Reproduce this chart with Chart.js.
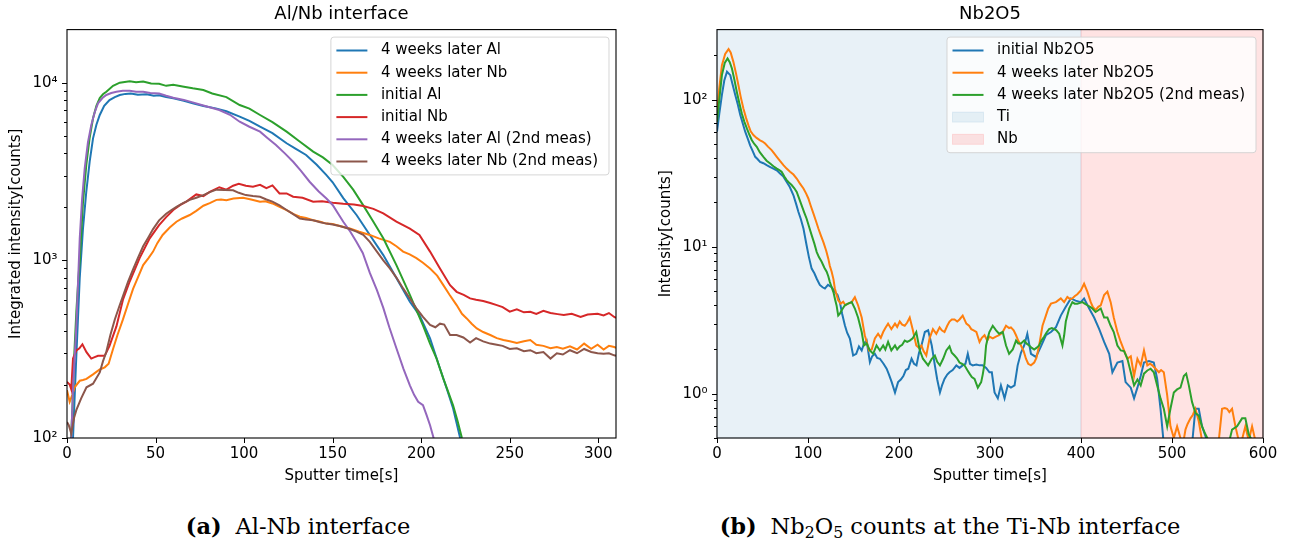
<!DOCTYPE html>
<html>
<head>
<meta charset="utf-8">
<script src="https://cdn.jsdelivr.net/npm/chart.js"></script>
<style>
  html, body { margin: 0; padding: 0; background: #fff; }
  #page { position: relative; width: 1300px; height: 543px; overflow: hidden; }
  canvas { position: absolute; top: 0; }
  .cap { position: absolute; top: 515px; width: 600px; text-align: center;
         font-family: "DejaVu Serif", serif; font-size: 22.5px; line-height: 1; color: #000; }
  .cap b { margin-right: 0.3em; }
  .cap sub { font-size: 0.7em; vertical-align: -0.28em; line-height: 0; }
</style>
</head>
<body>
<div id="page">
  <canvas id="chartA" width="650" height="490" style="left:0"></canvas>
  <canvas id="chartB" width="650" height="490" style="left:650px"></canvas>
  <div class="cap" style="left:-2px"><b>(a)</b> Al-Nb interface</div>
  <div class="cap" style="left:650px"><b>(b)</b> Nb<sub>2</sub>O<sub>5</sub> counts at the Ti-Nb interface</div>
</div>
<script>
// ---- tick values / labels ----
const leftXTicks = [0, 50, 100, 150, 200, 250, 300];
const rightXTicks = [0, 100, 200, 300, 400, 500, 600];
const leftYMajor = [100, 1000, 10000];
const leftYLabels = ['10²', '10³', '10⁴'];
const rightYMajor = [1, 10, 100];
const rightYLabels = ['10⁰', '10¹', '10²'];

// ---- shaded regions (sputter time) ----
const tiRange = [0, 400];
const nbRange = [400, 600];

// ---- Al/Nb interface: [sputter time s, counts] ----
const laterAl = [[0,70],[2,80],[3.4,100],[5,250],[7.2,800],[9,1500],[10.9,2440],[12.8,3600],[14.7,4860],[16.6,5800],[18.5,6580],[21,7400],[24,7990],[27,8300],[29.8,8530],[33,8650],[36,8700],[40,8550],[45,8600],[49,8450],[52,8500],[56,8300],[60,8160],[66,7900],[71,7650],[77,7400],[84,7170],[90,6900],[97.5,6440],[103,6100],[109,5650],[116,5200],[124,4560],[129,4250],[135,3920],[141,3450],[146.5,3020],[150,2750],[156,2240],[163.5,1800],[171,1390],[178.6,1070],[186,795],[193.6,585],[199,492],[205,364],[210.6,246],[214.4,190],[218,147],[222,100],[224,85]];
const laterNb = [[0,186],[1.5,160],[3,175],[4.3,193],[7.2,210],[9,212],[11,215],[14.7,228],[18.5,243],[21.3,250],[23.5,262],[26,317],[28.5,380],[31.6,465],[34.5,570],[37.3,690],[40,800],[43,940],[46,1030],[48.6,1120],[51,1250],[54,1390],[58,1530],[61.8,1650],[65,1720],[69.3,1800],[73,1900],[77,2030],[80.6,2100],[84.4,2190],[87,2200],[90,2180],[94,2230],[99.4,2250],[104,2200],[109,2140],[112,2150],[116,2090],[120,2000],[124,1920],[128,1820],[131.5,1760],[135,1730],[139,1680],[143,1650],[146.5,1610],[150,1600],[154,1560],[159.7,1510],[165,1450],[171,1390],[176,1330],[182.3,1270],[186,1200],[189.8,1120],[193.5,1080],[197.3,1030],[201,970],[205,900],[209,820],[212.5,725],[216,640],[220,560],[223,500],[225.7,471],[228.5,440],[231.4,414],[235,395],[239,380],[242.7,365],[246.4,356],[250,350],[254,343],[258,350],[261.6,356],[265,335],[269,330],[273,320],[276.6,325],[280,318],[284,328],[288,315],[292,340],[296,318],[299.6,335],[303,315],[306,330],[309,325],[310,322]];
const initialAl = [[0,70],[2,90],[3,140],[4,280],[5.3,520],[6.4,780],[7.2,1000],[9,2100],[10.9,3450],[12.8,4900],[14.7,6300],[16.6,7400],[18.5,8200],[20.3,8600],[22.2,8900],[26,9600],[29.8,10000],[32.6,10100],[35.4,10200],[39,10050],[43,10150],[47.5,9900],[52,9850],[56,9600],[60,9750],[66,9500],[71,9300],[77,9100],[82,8700],[90,8300],[97.5,7490],[103,7150],[109,6580],[116,6000],[124,5300],[131,4700],[139,4090],[144.5,3800],[150,3440],[156,2950],[161.6,2500],[167.3,2040],[173,1650],[178.6,1330],[186,940],[193.6,640],[201,430],[205,340],[208.7,280],[212.5,216],[215,185],[218,153],[220.5,125],[223,100],[225,85]];
const initialNb = [[0,207],[1.5,200],[2.4,188],[3.4,280],[5.3,311],[7,320],[8.7,337],[11,304],[13.7,280],[15.6,285],[17.5,290],[21.3,290],[24,330],[27.9,425],[31.6,600],[35.4,760],[41,1030],[46.7,1330],[52,1580],[56,1750],[60,1920],[64,2050],[67.4,2140],[73,2350],[77,2300],[80.6,2430],[86,2580],[90,2500],[93.8,2630],[97,2700],[101,2630],[105,2600],[109,2660],[112.6,2550],[116,2640],[120,2380],[124,2380],[127.7,2280],[133,2250],[139,2140],[144,2150],[150,2110],[156,2080],[162,2060],[167.3,2020],[173,1950],[178.6,1840],[186,1650],[193.6,1510],[199,1390],[205,1120],[210.6,900],[216.3,725],[220,665],[224,640],[227.6,611],[231,600],[235,590],[239,575],[242.7,560],[246,545],[250,514],[254,530],[258,510],[261.6,514],[265,500],[269,520],[273,505],[277,498],[280.5,492],[285,500],[290,480],[294,495],[299.6,500],[303,490],[306,505],[309,480],[310,474]];
const laterAl2 = [[0,90],[1,85],[2.4,100],[3.5,200],[5.3,433],[7.2,1330],[8.5,2200],[10,3300],[11.8,4600],[13.7,5770],[15.6,6800],[17.5,7650],[20,8200],[22.2,8530],[25,8750],[27.9,8900],[31.5,9000],[35.4,9010],[39,8900],[43,8900],[47,8750],[52,8700],[56,8450],[60,8230],[66,8000],[71,7750],[78,7400],[86,7020],[92,6600],[97.5,6030],[103,5650],[109,5300],[113,4900],[118,4460],[123,4000],[127.7,3590],[132,3200],[137,2770],[142,2450],[146.5,2230],[150,2050],[156,1650],[160,1450],[163.5,1270],[167,1100],[171,850],[175,680],[178.6,540],[182,420],[186,320],[190,245],[193.6,198],[196,175],[198.3,160],[201,153],[203,135],[205,118],[207,100],[209,85]];
const laterNb2 = [[0,123],[1,118],[2.4,106],[4,130],[5.3,144],[8,167],[11,193],[14.7,202],[18.5,234],[20.3,270],[22.2,306],[24.5,380],[27,465],[29.5,550],[31.6,630],[34.5,760],[37.3,890],[40,1030],[43,1200],[46,1350],[48.6,1500],[52,1680],[56,1830],[59,1920],[61.8,2000],[65.5,2100],[69.3,2190],[73,2250],[77,2330],[80.6,2420],[84.4,2500],[89,2490],[93.8,2480],[97,2400],[101,2330],[105,2300],[109,2280],[112.6,2200],[116,2140],[120,2040],[124,1920],[127.7,1820],[131.5,1720],[135,1700],[139,1680],[143,1640],[146.5,1610],[150,1590],[154,1560],[159.7,1500],[163.5,1450],[167.3,1390],[171,1270],[175,1120],[178.6,1000],[182.3,900],[186,800],[189.8,695],[193.6,610],[197.3,537],[201,480],[205,433],[208,420],[210.6,440],[213,435],[216.3,380],[220,380],[223.8,368],[227.6,345],[231,365],[235,350],[239,340],[242.7,335],[246,330],[250,317],[254,320],[258,308],[261.6,312],[265,300],[269,305],[273,280],[276.6,300],[280,295],[284,312],[288,300],[292,317],[296,305],[299.6,300],[303,298],[306,300],[309,292],[310,290]];

// ---- Nb2O5: [sputter time s, counts] ----
const initialNbO = [[0,60.6],[2.5,80],[5.4,108],[8,135],[11,155],[14.6,147],[17,128],[20,108],[23,92],[25.5,79],[28,70],[31,60.6],[34,54],[36.4,49],[39,45],[42,40.9],[44.5,39.5],[47.3,37.8],[51,37],[54.6,35.9],[58,35],[62,34],[66,33],[69.3,31.5],[73,30],[76.6,27.6],[80,25.5],[84,22.4],[87,19.5],[89.4,17.3],[92,15.5],[95,13.3],[98.5,10.2],[101,8.5],[104,7.1],[107,6.6],[109.6,6.06],[113,5.5],[116,5.3],[118.6,5.2],[122,5.5],[126,5.3],[130,4.9],[132.5,4.7],[135,4.2],[137.5,3.5],[140.5,2.92],[143,2.6],[146,2.37],[149.6,1.82],[153,1.87],[156,2.1],[159,1.97],[161.5,2.2],[164.4,2.3],[168,1.64],[170.5,1.8],[173.5,1.87],[176,1.75],[179,1.73],[183,1.6],[186.4,1.48],[189,1.35],[192,1.2],[195.6,1.02],[199,1.2],[202,1.25],[204.8,1.32],[207.5,1.45],[210.2,1.48],[213.8,1.73],[216.5,1.6],[219.2,1.56],[222,1.9],[224.7,2.13],[228.4,2.63],[232,2.7],[236,2.13],[239.4,1.56],[242,1.25],[245,1.02],[247.5,1.15],[250,1.26],[253,1.35],[255.5,1.4],[259,1.45],[263,1.56],[266.5,1.5],[270,1.56],[273,1.6],[275.6,1.87],[278,1.6],[281,1.56],[285,1.58],[288.5,1.56],[292,1.56],[295.8,1.5],[299.4,1.4],[302,1.4],[305,1.02],[308.6,0.93],[312,1.14],[316,0.93],[319.5,1.14],[323,1.1],[327,1.14],[330.4,1.56],[334,1.9],[337.6,2.13],[341,2.56],[345,1.87],[350.5,1.78],[356,2.1],[361.4,2.5],[367,2.63],[372.4,2.83],[377.8,3.4],[383.3,3.9],[388.8,4.45],[394,4.3],[399.8,4.2],[403.4,4.45],[409,3.8],[414.4,3.3],[420,2.75],[425.4,2.25],[431,1.87],[434.5,1.4],[440,1.63],[445.5,1.67],[449,1.2],[454.7,1.1],[458.3,0.93],[462,1.1],[465.6,1.32],[469.2,1.63],[474.7,1.67],[480,1.63],[483.7,1.26],[487.4,0.79],[491,0.45],[495,0.35],[510,0.35],[522,0.45],[525.7,0.79],[529.4,0.79],[533,0.6],[538.5,0.48],[542,0.4]];
const laterNbO = [[0,78.7],[2.5,120],[5.4,172],[9,205],[12.7,221],[15,210],[18,181],[21,150],[23.5,126],[26,105],[29,87.3],[32,75],[34.6,67],[37,61],[40,57.5],[43.5,55],[47.3,53],[50,52],[52.9,50.4],[56,48],[60,45.4],[63,43],[65.7,40.9],[69,38.5],[73,35.9],[76.5,34],[80.3,32.4],[84,31],[87.6,29.1],[91,27],[95,24.9],[98,23],[100.4,21.3],[103,19],[106,16.8],[109,14.8],[111.4,13.3],[114,12],[117,10.7],[120,9.4],[122.3,8.3],[124,7.4],[126,6.76],[128,6],[129.5,5.2],[131.5,4.7],[133.2,4.33],[136,4.1],[138.7,4.22],[141,4.0],[144,4.1],[148,4.2],[151.5,4.54],[155,4.0],[159,3.3],[162.4,2.5],[165,2.2],[167,1.97],[170,2.0],[173.5,2.38],[177,2.56],[180,2.4],[182.6,2.63],[185,2.8],[188,3.0],[191.6,2.75],[195.6,3.0],[198,2.85],[200.8,3.1],[203.5,2.95],[206.3,2.9],[209,3.05],[211.8,3.3],[215,2.75],[219,2.13],[222,2.05],[224.7,2.13],[227,1.95],[230,1.82],[233.6,2.38],[237.3,2.75],[241,2.56],[244.6,2.83],[247,2.7],[250,2.63],[253,2.9],[255.5,3.1],[258,3.2],[261,3.2],[264,3.1],[266.5,3.2],[270,3.4],[274,3.0],[277,2.9],[279.4,2.75],[282,2.7],[285,2.63],[288.5,2.25],[291,2.4],[294,2.5],[297,2.3],[299.4,2.45],[303,2.38],[306.5,2.45],[310,2.5],[313.5,2.6],[317.6,2.9],[321,2.8],[323,2.83],[326,2.7],[328.6,2.5],[331,2.3],[334,2.13],[337,1.95],[339.5,1.73],[342,1.6],[345,1.56],[348.6,1.63],[351,1.75],[354,2.13],[357.7,2.9],[361.4,3.4],[364,3.8],[367,4.1],[372.4,4.2],[377.8,4.45],[381.5,4.2],[385,4.55],[388,4.4],[390.5,4.45],[393,4.6],[396,4.75],[399.8,5.05],[403.4,5.6],[407,4.95],[410.7,4.2],[413,3.9],[416,3.7],[419,3.9],[421.7,4.0],[425.4,4.7],[429,4.95],[432.6,4.2],[436,3.3],[440,2.63],[443.7,2.25],[447.3,1.97],[451,1.73],[454.7,1.8],[458.3,1.32],[462,1.73],[465.6,1.56],[469.2,1.97],[472.9,1.56],[476,1.6],[478.3,1.56],[482,1.48],[485.6,1.4],[488,1.45],[491,1.4],[494.7,0.98],[498.3,0.6],[502,0.5],[505.6,0.6],[509.3,0.5],[512,0.45],[514.8,0.57],[517,0.62],[520.3,0.68],[523,0.72],[525.7,0.79],[529.4,0.65],[533,0.48],[540,0.4],[548,0.42],[551.4,0.48],[555,0.79],[558,0.8],[560.5,0.79],[563,0.75],[566,0.79],[569.7,0.6],[573.3,0.48],[577,0.49],[580.6,0.6],[584.3,0.48],[588,0.6],[591.6,0.48],[596,0.45],[600,0.45]];
const laterNbO2 = [[0,70.8],[2.5,100],[5.4,147],[8.5,178],[11.6,191],[14,180],[16.4,163],[19,138],[21.8,113],[24.5,95],[27.3,80.7],[30,71],[32.8,63.8],[35.5,58],[38.3,53],[41,50],[43.7,47.9],[47,44],[51,40.9],[54.5,38.5],[58.4,36.8],[62,35.3],[65.7,34],[68.5,33.2],[71,32.4],[74,30],[76.6,28.4],[79,27.4],[82,26.3],[85,25],[87.6,23.6],[90,21.5],[93,19.1],[96,17],[98.5,15.5],[101,13.8],[104,12],[107,10.5],[109.6,9.2],[112,8.5],[115,7.9],[118,7.2],[120.5,6.76],[122.3,6.3],[124,5.76],[126,5.3],[128,4.9],[129.7,4.4],[131.4,3.99],[133.2,3.4],[135,3.5],[137,3.7],[140.5,4.0],[144,4.1],[148,4.2],[151.5,3.8],[155,3.3],[159,2.63],[161.5,2.13],[164.4,2.2],[168,1.97],[171.6,1.87],[175.3,2.13],[179,1.97],[182.6,2.13],[185,2.0],[188,2.25],[191.6,1.97],[195.6,2.13],[198,2.0],[200.8,2.1],[203.5,2.15],[206.3,2.3],[209,2.25],[211.8,2.3],[215,2.38],[219,2.63],[222.6,2.0],[226.3,1.73],[229,1.65],[232,1.56],[236,1.73],[239.4,1.82],[242,1.65],[245,1.56],[248.5,1.73],[252,1.97],[255.5,2.1],[258,1.9],[261,1.82],[263.5,1.75],[266.5,1.63],[269,1.6],[272,1.56],[275,1.45],[277.5,1.37],[280,1.3],[283,1.26],[286.6,1.1],[290.3,1.2],[292,1.35],[294,1.6],[295.7,2.13],[297.6,2.4],[299.3,2.63],[303,2.9],[306.7,2.7],[310,2.56],[314,2.63],[317.6,2.13],[321,1.87],[325,2.0],[328.6,2.3],[331,2.2],[334,2.2],[337.6,2.3],[340,2.2],[343,2.13],[346,2.05],[348.6,2.0],[351,2.05],[354,2.13],[356.5,2.3],[359.6,2.45],[362,2.6],[365,2.75],[368,2.8],[370.6,2.75],[373,2.7],[376,2.56],[379.6,2.13],[381.5,2.5],[383.3,3.1],[387,3.8],[390.5,4.2],[393,4.1],[396,4.1],[399,4.15],[401.6,4.2],[404,4.1],[407,4.0],[410,3.9],[412.5,3.8],[416,3.6],[419,3.7],[421.7,3.8],[425.4,3.3],[429,3.3],[432.6,2.9],[436,2.63],[440,2.13],[443.7,1.97],[447.3,1.95],[451,1.73],[454.7,1.4],[458.3,1.14],[462,1.25],[465.6,1.14],[469.2,1.37],[472.9,1.44],[476.5,1.48],[480,1.4],[483.7,1.14],[487.4,0.93],[491,0.79],[494.7,0.6],[498.3,0.79],[502,1.02],[505.6,1.07],[509.3,1.1],[513,1.32],[515.6,1.37],[518.5,1.14],[522,0.88],[525.7,0.74],[529.4,0.71],[533,0.6],[536.7,0.53],[540.3,0.48],[545,0.4],[555,0.35],[562,0.45],[566,0.57],[571.5,0.6],[577,0.68],[580.6,0.68],[584.3,0.53],[588,0.48],[593.5,0.45],[600,0.45]];

const C = { blue: '#1f77b4', orange: '#ff7f0e', green: '#2ca02c', red: '#d62728', purple: '#9467bd', brown: '#8c564b' };
const tiFill = 'rgba(31,119,180,0.1)';
const nbFill = 'rgba(255,0,0,0.11)';

Chart.defaults.font.family = '"DejaVu Sans", sans-serif';
Chart.defaults.font.size = 15;
Chart.defaults.color = '#000';

const toXY = pts => pts.map(([x, y]) => ({ x, y }));

function lineSet(label, pts, color, i) {
  return { label, data: toXY(pts), borderColor: color, backgroundColor: color, borderWidth: 2,
           pointRadius: 0, tension: 0, fill: false, clip: 0, order: -i };
}

function logTicks(majors, min, max) {
  const out = [];
  for (let e = Math.floor(Math.log10(min)); e <= Math.floor(Math.log10(max)); e++) {
    for (let m = 1; m <= 9; m++) {
      const v = Number((m * Math.pow(10, e)).toPrecision(6));
      if (v >= min && v < max) out.push({ value: v, major: majors.includes(v) });
    }
  }
  return out;
}

// shaded spans, tick marks, frame and a matplotlib style legend
function decor(spans) {
  return {
    id: 'decor',
    beforeDatasetsDraw(chart) {
      const { ctx, chartArea: a, scales: { x } } = chart;
      ctx.save();
      spans.forEach(s => {
        const x1 = x.getPixelForValue(s.range[0]), x2 = x.getPixelForValue(s.range[1]);
        ctx.fillStyle = s.color;
        ctx.fillRect(x1, a.top, x2 - x1, a.bottom - a.top);
        ctx.strokeStyle = s.color;
        ctx.lineWidth = 1;
        ctx.strokeRect(x1, a.top, x2 - x1, a.bottom - a.top);
      });
      ctx.restore();
    },
    afterDatasetsDraw(chart) {
      const { ctx, chartArea: a, scales: { x, y } } = chart;
      ctx.save();
      ctx.strokeStyle = '#000';
      ctx.lineWidth = 1;
      ctx.beginPath();
      x.ticks.forEach(t => {
        const px = Math.round(x.getPixelForValue(t.value)) + 0.5;
        ctx.moveTo(px, a.bottom); ctx.lineTo(px, a.bottom + 5);
      });
      y.ticks.forEach(t => {
        const py = Math.round(y.getPixelForValue(t.value)) + 0.5;
        ctx.moveTo(a.left - (t.major ? 5 : 3), py); ctx.lineTo(a.left, py);
      });
      ctx.stroke();
      ctx.lineWidth = 1.1;
      ctx.strokeRect(a.left, a.top, a.right - a.left, a.bottom - a.top);

      // legend
      const items = chart.data.datasets.map(d => ({ label: d.label, color: d.borderColor, kind: 'line' }))
        .concat(spans.map(s => ({ label: s.label, color: s.color, kind: 'patch' })));
      const rowH = 22.2;
      ctx.font = '15px "DejaVu Sans"';
      const tw = Math.max(...items.map(it => ctx.measureText(it.label).width));
      const w = 50 + tw + 11, h = items.length * rowH + 4.6;
      const x0 = a.right - 7 - w, y0 = a.top + 7.5;
      ctx.beginPath();
      if (ctx.roundRect) ctx.roundRect(x0, y0, w, h, 3); else ctx.rect(x0, y0, w, h);
      ctx.fillStyle = 'rgba(255,255,255,0.8)';
      ctx.fill();
      ctx.strokeStyle = 'rgba(204,204,204,0.8)';
      ctx.lineWidth = 1;
      ctx.stroke();
      items.forEach((it, i) => {
        const cy = y0 + 13.4 + i * rowH;
        if (it.kind === 'line') {
          ctx.strokeStyle = it.color; ctx.lineWidth = 2;
          ctx.beginPath(); ctx.moveTo(x0 + 5.5, cy); ctx.lineTo(x0 + 36.5, cy); ctx.stroke();
        } else {
          ctx.fillStyle = it.color; ctx.strokeStyle = it.color; ctx.lineWidth = 1;
          ctx.fillRect(x0 + 5.5, cy - 5, 31, 10); ctx.strokeRect(x0 + 5.5, cy - 5, 31, 10);
        }
        ctx.fillStyle = '#000'; ctx.textAlign = 'left'; ctx.textBaseline = 'middle';
        ctx.fillText(it.label, x0 + 50, cy);
      });
      ctx.restore();
    }
  };
}

function makeChart(id, cfg) {
  return new Chart(document.getElementById(id), {
    type: 'line',
    data: { datasets: cfg.datasets },
    options: {
      responsive: false, animation: false, devicePixelRatio: 1, events: [],
      layout: { padding: { left: 0, top: 0, bottom: 0, right: cfg.padRight } },
      plugins: {
        legend: { display: false }, tooltip: { enabled: false },
        title: { display: true, text: cfg.title, fullSize: false, font: { size: 18, weight: 'normal' },
                 padding: { top: 4, bottom: 4 } }
      },
      scales: {
        x: {
          type: 'linear', min: cfg.xMin, max: cfg.xMax,
          afterBuildTicks: s => { s.ticks = cfg.xTicks.map(v => ({ value: v })); },
          afterFit: s => { s.height = 52; },
          grid: { display: false, drawTicks: true, tickLength: 5 },
          border: { display: false },
          ticks: { padding: 2.5, autoSkip: false, maxRotation: 0 },
          title: { display: true, text: 'Sputter time[s]', padding: { top: 0, bottom: 5 } }
        },
        y: {
          type: 'logarithmic', min: cfg.yMin, max: cfg.yMax,
          afterBuildTicks: s => { s.ticks = logTicks(cfg.yMajor, cfg.yMin, cfg.yMax); },
          afterFit: s => { s.width = 67; },
          grid: { display: false, drawTicks: true, tickLength: 5 },
          border: { display: false },
          ticks: { padding: 4.5, autoSkip: false,
                   callback: v => { const k = cfg.yMajor.indexOf(v); return k >= 0 ? cfg.yLabels[k] : ''; } },
          title: { display: true, text: cfg.yTitle, padding: { top: 7.5, bottom: 0 } }
        }
      }
    },
    plugins: [decor(cfg.spans)]
  });
}

makeChart('chartA', {
  title: 'Al/Nb interface', yTitle: 'Integrated intensity[counts]', padRight: 34,
  xMin: 0, xMax: 310, xTicks: leftXTicks,
  yMin: 100, yMax: 19900, yMajor: leftYMajor, yLabels: leftYLabels,
  spans: [],
  datasets: [
    lineSet('4 weeks later Al', laterAl, C.blue, 0),
    lineSet('4 weeks later Nb', laterNb, C.orange, 1),
    lineSet('initial Al', initialAl, C.green, 2),
    lineSet('initial Nb', initialNb, C.red, 3),
    lineSet('4 weeks later Al (2nd meas)', laterAl2, C.purple, 4),
    lineSet('4 weeks later Nb (2nd meas)', laterNb2, C.brown, 5)
  ]
});

makeChart('chartB', {
  title: 'Nb2O5', yTitle: 'Intensity[counts]', padRight: 37,
  xMin: 0, xMax: 600, xTicks: rightXTicks,
  yMin: 0.5, yMax: 300, yMajor: rightYMajor, yLabels: rightYLabels,
  spans: [{ label: 'Ti', range: tiRange, color: tiFill }, { label: 'Nb', range: nbRange, color: nbFill }],
  datasets: [
    lineSet('initial Nb2O5', initialNbO, C.blue, 0),
    lineSet('4 weeks later Nb2O5', laterNbO, C.orange, 1),
    lineSet('4 weeks later Nb2O5 (2nd meas)', laterNbO2, C.green, 2)
  ]
});
</script>
</body>
</html>
